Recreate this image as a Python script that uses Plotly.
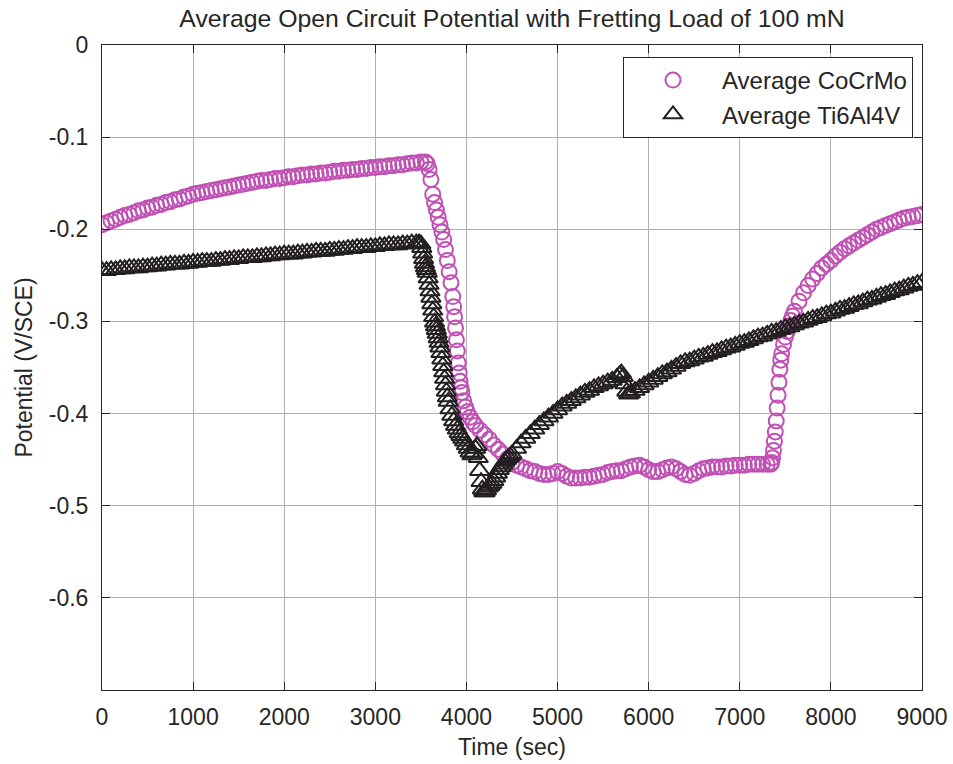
import plotly.graph_objects as go

# ---------------- data ----------------
# (time in sec, potential in V/SCE)
cocrmo_points = [
    (0, -0.195), (50, -0.193), (100, -0.191), (150, -0.189), (200, -0.187), (250, -0.185),
    (300, -0.184), (350, -0.182), (400, -0.180), (450, -0.179), (500, -0.177), (550, -0.176),
    (600, -0.174), (650, -0.173), (700, -0.171), (750, -0.170), (800, -0.168), (850, -0.167),
    (900, -0.165), (950, -0.164), (1000, -0.162), (1050, -0.161), (1100, -0.160), (1150, -0.159),
    (1200, -0.158), (1250, -0.157), (1300, -0.156), (1350, -0.155), (1400, -0.154), (1450, -0.153),
    (1500, -0.152), (1550, -0.151), (1600, -0.150), (1650, -0.149), (1700, -0.148), (1750, -0.147),
    (1800, -0.147), (1850, -0.146), (1900, -0.145), (1950, -0.145), (2000, -0.144), (2050, -0.143),
    (2100, -0.143), (2150, -0.142), (2200, -0.141), (2250, -0.141), (2300, -0.140), (2350, -0.140),
    (2400, -0.139), (2450, -0.139), (2500, -0.138), (2550, -0.137), (2600, -0.137), (2650, -0.136),
    (2700, -0.136), (2750, -0.135), (2800, -0.135), (2850, -0.134), (2900, -0.134), (2950, -0.133),
    (3000, -0.133), (3050, -0.132), (3100, -0.132), (3150, -0.131), (3200, -0.131), (3250, -0.130),
    (3300, -0.130), (3350, -0.129), (3400, -0.128), (3450, -0.128), (3500, -0.127), (3550, -0.127),
    (3570, -0.129), (3590, -0.135), (3610, -0.146), (3630, -0.162), (3650, -0.171), (3670, -0.179),
    (3690, -0.187), (3710, -0.195), (3730, -0.203), (3750, -0.211), (3770, -0.222), (3790, -0.234),
    (3810, -0.246), (3830, -0.258), (3850, -0.273), (3860, -0.284), (3870, -0.295), (3880, -0.307),
    (3890, -0.320), (3900, -0.332), (3910, -0.345), (3920, -0.356), (3930, -0.365), (3940, -0.372),
    (3950, -0.377), (3970, -0.386), (3990, -0.393), (4010, -0.398), (4040, -0.404), (4070, -0.409),
    (4100, -0.413), (4150, -0.418), (4200, -0.423), (4250, -0.428), (4300, -0.434), (4350, -0.439),
    (4400, -0.444), (4450, -0.449), (4500, -0.453), (4550, -0.456), (4600, -0.458), (4650, -0.460),
    (4700, -0.462), (4750, -0.463), (4800, -0.465), (4850, -0.466), (4900, -0.466), (4950, -0.465),
    (5000, -0.463), (5050, -0.465), (5100, -0.468), (5150, -0.470), (5200, -0.470), (5250, -0.470),
    (5300, -0.469), (5350, -0.469), (5400, -0.468), (5450, -0.467), (5500, -0.466), (5550, -0.464),
    (5600, -0.463), (5650, -0.462), (5700, -0.462), (5750, -0.460), (5800, -0.458), (5850, -0.457),
    (5900, -0.456), (5950, -0.458), (6000, -0.461), (6050, -0.463), (6100, -0.463), (6150, -0.461),
    (6200, -0.459), (6250, -0.458), (6300, -0.460), (6350, -0.463), (6400, -0.466), (6450, -0.467),
    (6500, -0.465), (6550, -0.462), (6600, -0.460), (6650, -0.459), (6700, -0.458), (6750, -0.458),
    (6800, -0.458), (6850, -0.457), (6900, -0.457), (6950, -0.456), (7000, -0.456), (7050, -0.456),
    (7100, -0.455), (7150, -0.455), (7200, -0.455), (7250, -0.455), (7300, -0.455), (7340, -0.455),
    (7350, -0.453), (7360, -0.448), (7370, -0.440), (7380, -0.430), (7390, -0.420), (7400, -0.408),
    (7410, -0.394), (7420, -0.380), (7430, -0.366), (7440, -0.352), (7450, -0.342), (7460, -0.335),
    (7480, -0.325), (7500, -0.317), (7520, -0.311), (7540, -0.305), (7560, -0.299), (7580, -0.294),
    (7600, -0.289), (7650, -0.278), (7700, -0.269), (7750, -0.261), (7800, -0.254), (7850, -0.248),
    (7900, -0.242), (7950, -0.238), (8000, -0.234), (8050, -0.229), (8100, -0.225), (8150, -0.221),
    (8200, -0.218), (8250, -0.215), (8300, -0.212), (8350, -0.209), (8400, -0.206), (8450, -0.203),
    (8500, -0.200), (8550, -0.198), (8600, -0.196), (8650, -0.194), (8700, -0.192), (8750, -0.190),
    (8800, -0.188), (8850, -0.187), (8900, -0.186), (8950, -0.185), (9000, -0.184),
]

ti6al4v_points = [
    (0, -0.245), (50, -0.245), (100, -0.244), (150, -0.244), (200, -0.243), (250, -0.243),
    (300, -0.242), (350, -0.242), (400, -0.242), (450, -0.241), (500, -0.241), (550, -0.240),
    (600, -0.240), (650, -0.239), (700, -0.239), (750, -0.238), (800, -0.238), (850, -0.238),
    (900, -0.237), (950, -0.237), (1000, -0.236), (1050, -0.236), (1100, -0.235), (1150, -0.235),
    (1200, -0.235), (1250, -0.234), (1300, -0.234), (1350, -0.233), (1400, -0.233), (1450, -0.232),
    (1500, -0.232), (1550, -0.231), (1600, -0.231), (1650, -0.231), (1700, -0.230), (1750, -0.230),
    (1800, -0.229), (1850, -0.229), (1900, -0.228), (1950, -0.228), (2000, -0.227), (2050, -0.227),
    (2100, -0.227), (2150, -0.226), (2200, -0.226), (2250, -0.225), (2300, -0.225), (2350, -0.224),
    (2400, -0.224), (2450, -0.224), (2500, -0.223), (2550, -0.223), (2600, -0.222), (2650, -0.222),
    (2700, -0.221), (2750, -0.221), (2800, -0.220), (2850, -0.220), (2900, -0.220), (2950, -0.219),
    (3000, -0.219), (3050, -0.218), (3100, -0.218), (3150, -0.217), (3200, -0.217), (3250, -0.217),
    (3300, -0.216), (3350, -0.216), (3400, -0.215), (3450, -0.215), (3480, -0.215), (3500, -0.216),
    (3510, -0.220), (3520, -0.226), (3530, -0.232), (3540, -0.237), (3550, -0.241), (3560, -0.244),
    (3570, -0.247), (3580, -0.253), (3590, -0.260), (3600, -0.267), (3610, -0.274), (3620, -0.281),
    (3630, -0.288), (3640, -0.295), (3650, -0.301), (3660, -0.305), (3670, -0.309), (3680, -0.313),
    (3690, -0.318), (3700, -0.323), (3710, -0.328), (3720, -0.334), (3730, -0.341), (3740, -0.348),
    (3750, -0.355), (3760, -0.362), (3770, -0.369), (3780, -0.376), (3790, -0.382), (3800, -0.387),
    (3820, -0.395), (3840, -0.402), (3860, -0.408), (3880, -0.413), (3900, -0.417), (3920, -0.421),
    (3940, -0.424), (3960, -0.427), (3980, -0.430), (4000, -0.434), (4020, -0.438), (4040, -0.442),
    (4060, -0.445), (4080, -0.443), (4100, -0.438), (4115, -0.435), (4130, -0.448), (4145, -0.462),
    (4160, -0.474), (4175, -0.482), (4190, -0.485), (4205, -0.485), (4220, -0.483), (4240, -0.480),
    (4260, -0.478), (4280, -0.476), (4300, -0.473), (4320, -0.469), (4340, -0.465), (4360, -0.461),
    (4380, -0.458), (4400, -0.455), (4420, -0.452), (4440, -0.450), (4460, -0.448), (4480, -0.446),
    (4500, -0.444), (4550, -0.438), (4600, -0.432), (4650, -0.427), (4700, -0.422), (4750, -0.417),
    (4800, -0.412), (4850, -0.408), (4900, -0.404), (4950, -0.400), (5000, -0.396), (5050, -0.392),
    (5100, -0.389), (5150, -0.386), (5200, -0.383), (5250, -0.380), (5300, -0.377), (5350, -0.375),
    (5400, -0.372), (5450, -0.370), (5500, -0.368), (5550, -0.366), (5600, -0.364), (5650, -0.361),
    (5680, -0.358), (5700, -0.356), (5720, -0.360), (5740, -0.368), (5760, -0.376), (5780, -0.379),
    (5800, -0.378), (5850, -0.375), (5900, -0.372), (5950, -0.369), (6000, -0.366), (6050, -0.363),
    (6100, -0.360), (6150, -0.357), (6200, -0.355), (6250, -0.352), (6300, -0.349), (6350, -0.346),
    (6400, -0.344), (6450, -0.343), (6500, -0.341), (6550, -0.339), (6600, -0.338), (6650, -0.336),
    (6700, -0.334), (6750, -0.333), (6800, -0.331), (6850, -0.329), (6900, -0.328), (6950, -0.326),
    (7000, -0.324), (7050, -0.323), (7100, -0.321), (7150, -0.319), (7200, -0.317), (7250, -0.316),
    (7300, -0.314), (7350, -0.312), (7400, -0.311), (7450, -0.309), (7500, -0.307), (7550, -0.306),
    (7600, -0.304), (7650, -0.302), (7700, -0.301), (7750, -0.299), (7800, -0.297), (7850, -0.296),
    (7900, -0.294), (7950, -0.292), (8000, -0.291), (8050, -0.289), (8100, -0.287), (8150, -0.286),
    (8200, -0.284), (8250, -0.282), (8300, -0.281), (8350, -0.279), (8400, -0.277), (8450, -0.276),
    (8500, -0.274), (8550, -0.272), (8600, -0.271), (8650, -0.269), (8700, -0.267), (8750, -0.266),
    (8800, -0.264), (8850, -0.262), (8900, -0.261), (8950, -0.259), (9000, -0.258),
]

cocrmo_time = [p[0] for p in cocrmo_points]
cocrmo_potential = [p[1] for p in cocrmo_points]
ti_time = [p[0] for p in ti6al4v_points]
ti_potential = [p[1] for p in ti6al4v_points]

x_ticks = [0, 1000, 2000, 3000, 4000, 5000, 6000, 7000, 8000, 9000]
x_tick_labels = ["0", "1000", "2000", "3000", "4000", "5000", "6000", "7000", "8000", "9000"]
y_ticks = [0, -0.1, -0.2, -0.3, -0.4, -0.5, -0.6]
y_tick_labels = ["0", "-0.1", "-0.2", "-0.3", "-0.4", "-0.5", "-0.6"]

# ---------------- figure ----------------
FONT = "Liberation Sans, Arial, Helvetica, sans-serif"
AX = "#262626"
MAGENTA = "#C050B4"

fig = go.Figure()
fig.add_trace(go.Scatter(
    x=cocrmo_time, y=cocrmo_potential, mode="markers", name="Average CoCrMo",
    marker=dict(symbol="circle-open", size=15, color=MAGENTA, line=dict(width=2, color=MAGENTA)),
))
fig.add_trace(go.Scatter(
    x=ti_time, y=ti_potential, mode="markers", name="Average Ti6Al4V",
    marker=dict(symbol="triangle-up-open", size=17, color="#231F20", line=dict(width=2, color="#231F20")),
))

axis_common = dict(
    showline=True, linecolor=AX, linewidth=1, mirror="ticks",
    ticks="inside", ticklen=8, tickwidth=1, tickcolor=AX,
    showgrid=True, gridcolor="#b0b0b0", gridwidth=1, zeroline=False,
    tickfont=dict(family=FONT, size=23, color=AX),
    automargin=False,
)

fig.update_layout(
    width=953, height=764,
    margin=dict(l=102, r=31, t=45, b=74, autoexpand=False),
    paper_bgcolor="white", plot_bgcolor="white",
    font=dict(family=FONT, color=AX),
    title=dict(text="Average Open Circuit Potential with Fretting Load of 100 mN",
               x=0.5, xref="paper", xanchor="center",
               y=1 - 18 / 764, yref="container", yanchor="middle",
               font=dict(family=FONT, size=24.8, color=AX)),
    xaxis=dict(range=[0, 9000], tickvals=x_ticks, ticktext=x_tick_labels,
               ticklabelstandoff=6,
               title=dict(text="Time (sec)", font=dict(family=FONT, size=23, color=AX), standoff=10),
               **axis_common),
    yaxis=dict(range=[-0.7, 0], tickvals=y_ticks, ticktext=y_tick_labels,
               ticklabelstandoff=8,
               title=dict(text="Potential (V/SCE)", font=dict(family=FONT, size=23, color=AX), standoff=9),
               **axis_common),
    legend=dict(x=(913 - 102) / 820, xanchor="right", y=1 - (57 - 45) / 645, yanchor="top",
                bordercolor=AX, borderwidth=1, bgcolor="white",
                font=dict(family=FONT, size=24, color=AX),
                itemwidth=88),
    showlegend=True,
)

fig.write_html("out.html")
